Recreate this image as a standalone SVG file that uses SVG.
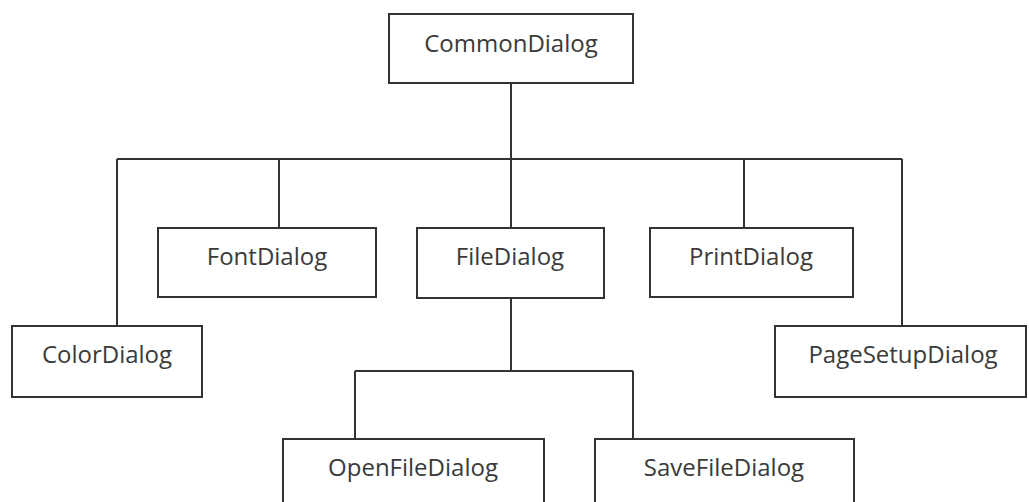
<svg xmlns="http://www.w3.org/2000/svg" width="1029" height="502" viewBox="0 0 1029 502">
<style>
.box{fill:#fff;stroke:#333;stroke-width:2}
.lbl{font-family:"Open Sans","Liberation Sans",sans-serif;font-size:24px;fill:#3a3a3a;text-anchor:middle}
.con{fill:none;stroke:#333;stroke-width:2}
</style>
<rect width="1029" height="502" fill="#fff"/>
<g id="connectors">
<path class="con" d="M511 83V159M117 159H902M117 159V326M279 159V228M511 159V228M744 159V228M902 159V326"/>
<path class="con" d="M511 298V371M355 371H633M355 371V439M633 371V439"/>
</g>
<g id="CommonDialog"><rect class="box" x="389" y="14" width="244" height="69"/><text class="lbl" x="511" y="52">CommonDialog</text></g>
<g id="FontDialog"><rect class="box" x="158" y="228" width="218" height="69"/><text class="lbl" x="267" y="265">FontDialog</text></g>
<g id="FileDialog"><rect class="box" x="417" y="228" width="187" height="70"/><text class="lbl" x="510" y="265">FileDialog</text></g>
<g id="PrintDialog"><rect class="box" x="650" y="228" width="203" height="69"/><text class="lbl" x="751" y="265">PrintDialog</text></g>
<g id="ColorDialog"><rect class="box" x="12" y="326" width="190" height="71"/><text class="lbl" x="107" y="363">ColorDialog</text></g>
<g id="PageSetupDialog"><rect class="box" x="775" y="326" width="251" height="71"/><text class="lbl" x="903" y="363">PageSetupDialog</text></g>
<g id="OpenFileDialog"><rect class="box" x="283" y="439" width="261" height="75"/><text class="lbl" x="413" y="476">OpenFileDialog</text></g>
<g id="SaveFileDialog"><rect class="box" x="595" y="439" width="259" height="75"/><text class="lbl" x="724" y="476">SaveFileDialog</text></g>
</svg>
